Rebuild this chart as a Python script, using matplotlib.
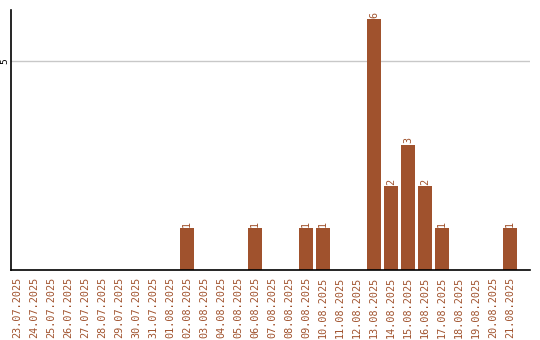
import matplotlib
matplotlib.use("Agg")
import matplotlib.pyplot as plt
import numpy as np

# daily counts, 23.07.2025 .. 21.08.2025
dates = ["23.07.2025", "24.07.2025", "25.07.2025", "26.07.2025", "27.07.2025",
         "28.07.2025", "29.07.2025", "30.07.2025", "31.07.2025", "01.08.2025",
         "02.08.2025", "03.08.2025", "04.08.2025", "05.08.2025", "06.08.2025",
         "07.08.2025", "08.08.2025", "09.08.2025", "10.08.2025", "11.08.2025",
         "12.08.2025", "13.08.2025", "14.08.2025", "15.08.2025", "16.08.2025",
         "17.08.2025", "18.08.2025", "19.08.2025", "20.08.2025", "21.08.2025"]
counts = [0, 0, 0, 0, 0, 0, 0, 0, 0, 0,
          1, 0, 0, 0, 1, 0, 0, 1, 1, 0,
          0, 6, 2, 3, 2, 1, 0, 0, 0, 1]

color = "#A0522D"
font = "DejaVu Sans Mono"

fig = plt.figure(figsize=(5.4, 3.4), dpi=100)
ax = fig.add_axes([11 / 540, 70 / 340, 519 / 540, 260 / 340])

x = np.arange(len(dates))
ax.bar(x, counts, width=0.82, color=color, zorder=2)

for xi, c in zip(x, counts):
    if c > 0:
        ax.text(xi, c + 0.04, str(c), rotation=90, ha="center", va="bottom",
                fontsize=7.3, color=color, family=font)

ax.set_xlim(-0.353, 30.18)
ax.set_ylim(0, 6.22)
ax.set_yticks([5])
ax.set_yticklabels(["5"], rotation=90, va="center", fontsize=6.8, family=font)
ax.yaxis.grid(True, color="#c8c8c8", linewidth=1, zorder=0)
ax.set_xticks(x)
ax.set_xticklabels(dates, rotation=90, fontsize=7.3, family=font, color=color)
ax.tick_params(axis="x", length=0, pad=5)
ax.tick_params(axis="y", length=0, pad=1.5)

for side in ["top", "right"]:
    ax.spines[side].set_visible(False)
ax.spines["left"].set_linewidth(1.2)
ax.spines["bottom"].set_linewidth(1.2)

fig.savefig("out.png", dpi=100)
